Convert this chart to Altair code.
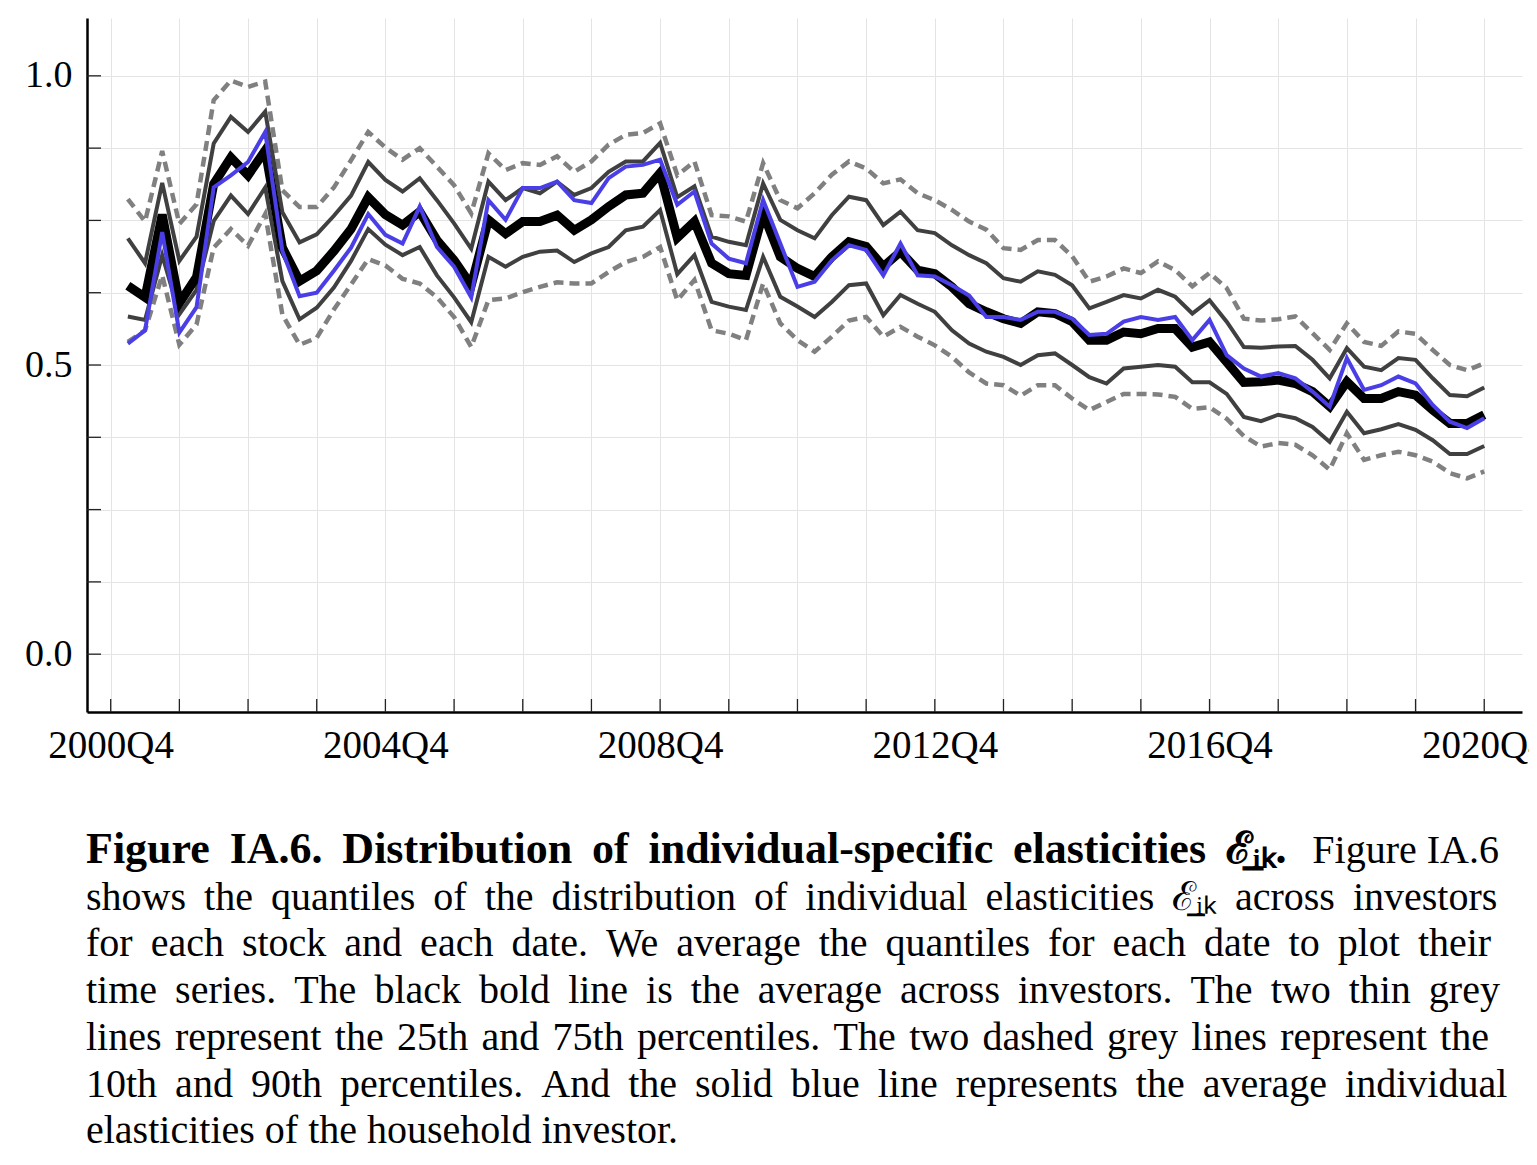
import altair as alt
import pandas as pd

# ---------------- data ----------------
QUARTERS = [f"{y}Q{q}" for y in range(2001, 2021) for q in range(1, 5)]

MEAN = [0.637, 0.617, 0.760, 0.607, 0.652, 0.813, 0.859, 0.828, 0.871, 0.703,
        0.645, 0.663, 0.697, 0.735, 0.790, 0.760, 0.742, 0.765, 0.716, 0.681,
        0.638, 0.751, 0.727, 0.748, 0.748, 0.759, 0.733, 0.751, 0.774, 0.794,
        0.797, 0.832, 0.720, 0.748, 0.676, 0.658, 0.655, 0.762, 0.687, 0.667,
        0.653, 0.687, 0.713, 0.705, 0.670, 0.696, 0.664, 0.658, 0.635, 0.606,
        0.592, 0.580, 0.572, 0.592, 0.589, 0.575, 0.543, 0.543, 0.557, 0.554,
        0.563, 0.563, 0.531, 0.540, 0.505, 0.470, 0.471, 0.474, 0.468, 0.454,
        0.428, 0.471, 0.442, 0.442, 0.454, 0.448, 0.422, 0.399, 0.399, 0.414]

HOUSEHOLD = [0.537, 0.560, 0.730, 0.556, 0.600, 0.807, 0.828, 0.851, 0.903, 0.697,
             0.619, 0.625, 0.663, 0.703, 0.761, 0.725, 0.710, 0.774, 0.704, 0.670,
             0.617, 0.785, 0.751, 0.806, 0.806, 0.817, 0.785, 0.780, 0.823, 0.843,
             0.846, 0.855, 0.777, 0.800, 0.710, 0.684, 0.676, 0.785, 0.710, 0.635,
             0.644, 0.681, 0.707, 0.699, 0.655, 0.710, 0.655, 0.653, 0.638, 0.620,
             0.583, 0.583, 0.578, 0.592, 0.592, 0.580, 0.552, 0.554, 0.575, 0.583,
             0.578, 0.583, 0.543, 0.578, 0.517, 0.494, 0.480, 0.486, 0.477, 0.454,
             0.428, 0.512, 0.457, 0.465, 0.480, 0.468, 0.431, 0.402, 0.391, 0.408]

P75 = [0.719, 0.676, 0.815, 0.680, 0.722, 0.883, 0.929, 0.903, 0.938, 0.764,
       0.712, 0.726, 0.758, 0.793, 0.851, 0.820, 0.800, 0.823, 0.785, 0.745,
       0.701, 0.817, 0.785, 0.806, 0.797, 0.817, 0.794, 0.806, 0.834, 0.852,
       0.852, 0.884, 0.790, 0.809, 0.722, 0.713, 0.707, 0.814, 0.751, 0.733,
       0.719, 0.759, 0.791, 0.785, 0.742, 0.765, 0.733, 0.728, 0.707, 0.690,
       0.676, 0.650, 0.644, 0.662, 0.656, 0.638, 0.598, 0.609, 0.621, 0.615,
       0.630, 0.618, 0.589, 0.612, 0.575, 0.531, 0.530, 0.532, 0.533, 0.509,
       0.477, 0.529, 0.497, 0.491, 0.512, 0.509, 0.477, 0.448, 0.446, 0.461]

P25 = [0.584, 0.578, 0.690, 0.588, 0.630, 0.749, 0.793, 0.761, 0.807, 0.645,
       0.579, 0.599, 0.634, 0.680, 0.735, 0.708, 0.690, 0.704, 0.655, 0.617,
       0.574, 0.687, 0.670, 0.687, 0.696, 0.698, 0.678, 0.693, 0.704, 0.733,
       0.739, 0.768, 0.657, 0.690, 0.609, 0.601, 0.595, 0.687, 0.618, 0.601,
       0.583, 0.609, 0.638, 0.641, 0.586, 0.621, 0.606, 0.592, 0.560, 0.537,
       0.523, 0.514, 0.500, 0.517, 0.520, 0.500, 0.479, 0.468, 0.494, 0.497,
       0.500, 0.497, 0.470, 0.470, 0.450, 0.410, 0.403, 0.414, 0.408, 0.393,
       0.367, 0.419, 0.382, 0.389, 0.398, 0.388, 0.370, 0.346, 0.346, 0.360]

P90 = [0.787, 0.748, 0.870, 0.744, 0.778, 0.958, 0.992, 0.981, 0.990, 0.802,
       0.773, 0.773, 0.807, 0.854, 0.903, 0.876, 0.855, 0.875, 0.843, 0.811,
       0.762, 0.866, 0.837, 0.849, 0.846, 0.861, 0.834, 0.852, 0.881, 0.898,
       0.901, 0.918, 0.828, 0.852, 0.759, 0.757, 0.748, 0.849, 0.785, 0.771,
       0.797, 0.829, 0.852, 0.840, 0.814, 0.821, 0.797, 0.785, 0.768, 0.748,
       0.734, 0.702, 0.699, 0.716, 0.716, 0.688, 0.644, 0.653, 0.667, 0.659,
       0.679, 0.664, 0.636, 0.659, 0.633, 0.580, 0.577, 0.579, 0.584, 0.555,
       0.526, 0.572, 0.540, 0.533, 0.558, 0.554, 0.526, 0.500, 0.491, 0.503]

P10 = [0.540, 0.560, 0.655, 0.535, 0.570, 0.703, 0.735, 0.706, 0.761, 0.587,
       0.535, 0.547, 0.596, 0.639, 0.683, 0.672, 0.649, 0.641, 0.617, 0.583,
       0.531, 0.612, 0.615, 0.626, 0.635, 0.643, 0.641, 0.641, 0.661, 0.678,
       0.687, 0.704, 0.612, 0.647, 0.560, 0.554, 0.543, 0.641, 0.572, 0.543,
       0.523, 0.549, 0.577, 0.583, 0.549, 0.566, 0.549, 0.534, 0.514, 0.487,
       0.468, 0.465, 0.447, 0.465, 0.465, 0.442, 0.422, 0.436, 0.450, 0.450,
       0.449, 0.445, 0.424, 0.427, 0.407, 0.377, 0.359, 0.365, 0.362, 0.344,
       0.319, 0.382, 0.336, 0.344, 0.350, 0.344, 0.333, 0.313, 0.304, 0.316]

XTICK_LABELS = ["2000Q4", "2004Q4", "2008Q4", "2012Q4", "2016Q4", "2020Q4"]
YTICK_LABELS = ["0.0", "0.5", "1.0"]

ELAST = "\u2130\u0332\u1d62\u2096"
CAPTION_BOLD = f"Figure IA.6.  Distribution of individual-specific elasticities {ELAST}."
CAPTION_REF = "Figure IA.6"
CAPTION_LINES = [
    f"shows the quantiles of the distribution of individual elasticities {ELAST} across investors",
    "for each stock and each date.  We average the quantiles for each date to plot their",
    "time series.  The black bold line is the average across investors.  The two thin grey",
    "lines represent the 25th and 75th percentiles. The two dashed grey lines represent the",
    "10th and 90th percentiles.  And the solid blue line represents the average individual",
    "elasticities of the household investor.",
]
# extra inter-word space per line, imitating the justified paragraph
THIN, HAIR = "\u2009", "\u200a"
LINE_GAPS = [THIN, THIN, THIN, HAIR, THIN, ""]
BOLD_GAP = THIN


def spread(text, gap):
    return (" " + gap).join(text.split())


def qindex(label):
    """Quarters elapsed since 2000Q4."""
    y, q = label.split("Q")
    return (int(y) - 2000) * 4 + int(q) - 4


SERIES = {
    "p10": P10, "p90": P90, "p25": P25, "p75": P75,
    "mean": MEAN, "household": HOUSEHOLD,
}
rows = []
for name, vals in SERIES.items():
    for lab, v in zip(QUARTERS, vals):
        rows.append({"quarter": lab, "t": qindex(lab), "series": name, "v": v})
df = pd.DataFrame(rows)

# ---------------- layout ----------------
W, H = 1435, 694
FONT = "Liberation Serif"

year_grid = list(range(0, 81, 4))
y_grid = [i * 0.125 for i in range(9)]

xtick_pos = [qindex(l) for l in XTICK_LABELS]
x_expr = "".join(f"datum.value == {p} ? '{l}' : " for p, l in zip(xtick_pos, XTICK_LABELS)) + "''"
y_expr = "".join(f"datum.value == {float(l)} ? '{l}' : " for l in YTICK_LABELS) + "''"

xscale = alt.Scale(domain=[-1.38, 82.2], nice=False, zero=False)
yscale = alt.Scale(domain=[-0.1, 1.1], nice=False, zero=False)

xaxis = alt.Axis(values=year_grid, labelExpr=x_expr, title=None, grid=True,
                 ticks=False, tickSize=0, labelPadding=14, labelFont=FONT,
                 labelFontSize=39, labelColor="black", labelOverlap=False,
                 labelFlush=False, domainColor="black", domainWidth=2.5,
                 gridColor="#e4e4e4", gridWidth=1)
yaxis = alt.Axis(values=y_grid, labelExpr=y_expr, title=None, grid=True,
                 ticks=False, tickSize=0, labelPadding=15, labelFont=FONT,
                 labelFontSize=38, labelColor="black", labelOverlap=False,
                 labelFlush=False, domainColor="black", domainWidth=2.5,
                 gridColor="#e4e4e4", gridWidth=1)

base = alt.Chart(df)


def line_layer(name, color, width, dash=None):
    kw = dict(color=color, strokeWidth=width, clip=False)
    if dash:
        kw["strokeDash"] = dash
    return base.transform_filter(alt.datum.series == name).mark_line(**kw).encode(
        x=alt.X("t:Q", scale=xscale, axis=xaxis),
        y=alt.Y("v:Q", scale=yscale, axis=yaxis),
        order="t:Q",
    )


xticks = alt.Chart(pd.DataFrame({"t": year_grid})).mark_rule(
    color="#222222", strokeWidth=1.3
).encode(
    x=alt.X("t:Q", scale=xscale, axis=xaxis),
    y=alt.value(H),
    y2=alt.value(H - 13),
)
yticks = alt.Chart(pd.DataFrame({"v": y_grid})).mark_rule(
    color="#222222", strokeWidth=1.3
).encode(
    y=alt.Y("v:Q", scale=yscale, axis=yaxis),
    x=alt.value(0),
    x2=alt.value(14),
)

layers = [
    line_layer("p10", "#808080", 4.5, [10, 6]),
    line_layer("p90", "#808080", 4.5, [10, 6]),
    line_layer("p25", "#404040", 4),
    line_layer("p75", "#404040", 4),
    line_layer("mean", "#000000", 9),
    line_layer("household", "#4a3fe6", 4),
    xticks,
    yticks,
]

# caption
CAP_X = -1
CAP_Y0 = 845
CAP_DY = 46.7
CAP_SIZE = 40

layers.append(
    alt.Chart(pd.DataFrame({"txt": [spread(CAPTION_BOLD, BOLD_GAP)]})).mark_text(
        align="left", baseline="alphabetic", font=FONT, fontSize=44,
        fontWeight="bold", color="black"
    ).encode(text="txt:N", x=alt.value(CAP_X), y=alt.value(CAP_Y0))
)
layers.append(
    alt.Chart(pd.DataFrame({"txt": [CAPTION_REF]})).mark_text(
        align="right", baseline="alphabetic", font=FONT, fontSize=CAP_SIZE,
        color="black"
    ).encode(text="txt:N", x=alt.value(1412), y=alt.value(CAP_Y0))
)
for i, (line, gap) in enumerate(zip(CAPTION_LINES, LINE_GAPS)):
    layers.append(
        alt.Chart(pd.DataFrame({"txt": [spread(line, gap)]})).mark_text(
            align="left", baseline="alphabetic", font=FONT, fontSize=CAP_SIZE,
            color="black"
        ).encode(text="txt:N", x=alt.value(CAP_X),
                 y=alt.value(round(CAP_Y0 + (i + 1) * CAP_DY, 1)))
    )

chart = alt.layer(*layers).properties(
    width=W, height=H,
    autosize=alt.AutoSizeParams(type="none"),
    padding={"left": 79, "top": 10, "right": 7, "bottom": 442},
    background="white",
).configure_view(strokeWidth=0)

chart.save("out.html", embed_options={"renderer": "svg", "actions": False})
